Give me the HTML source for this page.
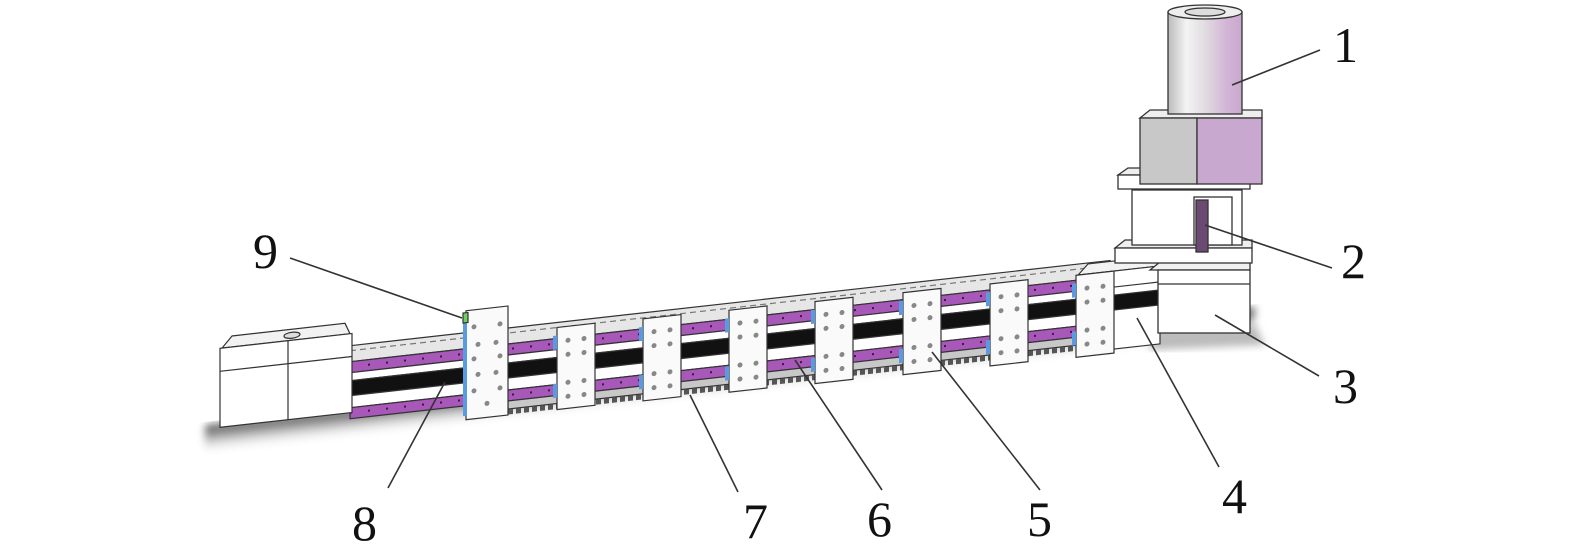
<!DOCTYPE html>
<html><head><meta charset="utf-8"><style>
html,body{margin:0;padding:0;background:#fff;}
svg{display:block;}
text{font-family:"Liberation Serif",serif;font-size:50px;fill:#111;}
</style></head><body>
<svg width="1575" height="557" viewBox="0 0 1575 557" xmlns="http://www.w3.org/2000/svg">
<defs>
<linearGradient id="sh" x1="0" y1="0" x2="0" y2="1">
<stop offset="0" stop-color="#555"/><stop offset="0.35" stop-color="#999"/><stop offset="1" stop-color="#fff" stop-opacity="0"/>
</linearGradient>
<linearGradient id="cyl" x1="0" y1="0" x2="1" y2="0">
<stop offset="0" stop-color="#bbb"/><stop offset="0.25" stop-color="#f4f4f4"/><stop offset="0.5" stop-color="#e0dce0"/><stop offset="0.8" stop-color="#d2b4d6"/><stop offset="1" stop-color="#c8a8cc"/>
</linearGradient>
<filter id="bl"><feGaussianBlur stdDeviation="4"/></filter>
<g id="p" stroke="#333" stroke-width="1.2">
<rect x="0" y="0" width="38" height="82" fill="#fafafa"/>
<rect x="-4" y="8" width="4" height="14" fill="#5a9ae0" stroke="none"/>
<rect x="-4" y="56" width="4" height="14" fill="#5a9ae0" stroke="none"/>
<g fill="#888" stroke="none">
<circle cx="11" cy="14" r="2.5"/><circle cx="27" cy="14" r="2.5"/>
<circle cx="11" cy="28" r="2.5"/><circle cx="27" cy="28" r="2.5"/>
<circle cx="11" cy="56" r="2.5"/><circle cx="27" cy="56" r="2.5"/>
<circle cx="11" cy="70" r="2.5"/><circle cx="27" cy="70" r="2.5"/>
</g>
</g>
</defs>

<g transform="skewY(-6.4)" filter="url(#bl)">
<rect x="205" y="448" width="1050" height="30" fill="url(#sh)"/>
</g>
<polygon points="1150,330 1255,325 1265,345 1150,350" fill="#bbb" filter="url(#bl)"/>

<g transform="skewY(-6.4)" stroke="#333" stroke-width="1.2">
<rect x="350" y="385" width="760" height="16" fill="#e6e6e6"/>
<line x1="350" y1="390" x2="1110" y2="390" stroke="#777" stroke-dasharray="6 4"/>
<rect x="350" y="401" width="760" height="11" fill="#a858b8"/>
<line x1="350" y1="406" x2="1110" y2="406" stroke="#3a1a40" stroke-width="2" stroke-dasharray="2 16"/>
<rect x="350" y="412" width="760" height="8" fill="#fff"/>
<rect x="350" y="420" width="815" height="15" fill="#111"/>
<rect x="350" y="435" width="760" height="12" fill="#fff"/>
<rect x="350" y="447" width="760" height="11" fill="#a858b8"/>
<line x1="350" y1="452" x2="1110" y2="452" stroke="#3a1a40" stroke-width="2" stroke-dasharray="2 16"/>
<rect x="508" y="458" width="602" height="8" fill="#c8c8c8"/>
<line x1="508" y1="469" x2="1110" y2="469" stroke="#555" stroke-width="5" stroke-dasharray="5 3"/>
<polygon points="222,373 232,362 345,362 350,373" fill="#f2f2f2"/>
<rect x="220" y="373" width="132" height="79" fill="#fff"/>
<line x1="288" y1="373" x2="288" y2="452"/>
<line x1="220" y1="396" x2="352" y2="396"/>
<ellipse cx="292" cy="368" rx="8" ry="3" fill="#ddd"/>
<polygon points="1078,396 1088,386 1150,386 1160,396" fill="#f2f2f2"/>
<rect x="1078" y="396" width="82" height="78" fill="#fff"/>
<line x1="1078" y1="412" x2="1160" y2="412"/>
<rect x="1110" y="420" width="55" height="15" fill="#111"/>
<rect x="466" y="363" width="42" height="109" fill="#fafafa"/>
<rect x="463" y="368" width="4" height="100" fill="#5a9ae0" stroke="none"/>
<rect x="463" y="365" width="5" height="10" fill="#6fd060"/>
<g fill="#888" stroke="none">
<circle cx="474" cy="380" r="2.5"/><circle cx="500" cy="380" r="2.5"/>
<circle cx="478" cy="398" r="2.5"/><circle cx="496" cy="398" r="2.5"/>
<circle cx="474" cy="412" r="2.5"/><circle cx="500" cy="412" r="2.5"/>
<circle cx="478" cy="428" r="2.5"/><circle cx="496" cy="428" r="2.5"/>
<circle cx="474" cy="444" r="2.5"/><circle cx="500" cy="444" r="2.5"/>
<circle cx="487" cy="458" r="2.5"/>
</g>
<use href="#p" transform="translate(557,390)"/>
<use href="#p" transform="translate(643,391)"/>
<use href="#p" transform="translate(729,392)"/>
<use href="#p" transform="translate(815,393)"/>
<use href="#p" transform="translate(903,394)"/>
<use href="#p" transform="translate(990,395)"/>
<use href="#p" transform="translate(1076,396)"/>
</g>

<g stroke="#333" stroke-width="1.3">
<polygon points="1150,270 1160,262 1250,262 1250,270" fill="#f0f0f0"/>
<rect x="1158" y="270" width="92" height="63" fill="#fff"/>
<line x1="1158" y1="284" x2="1250" y2="284"/>
<polygon points="1115,248 1125,240 1252,240 1252,248" fill="#eee"/>
<rect x="1115" y="248" width="137" height="15" fill="#fff"/>
<rect x="1132" y="190" width="110" height="55" fill="#fff"/>
<rect x="1194" y="197" width="38" height="48" fill="#fff"/>
<rect x="1196" y="200" width="12" height="52" fill="#6a4a72"/>
<polygon points="1118,175 1128,168 1250,168 1250,175" fill="#eee"/>
<rect x="1118" y="175" width="132" height="14" fill="#fff"/>
<polygon points="1140,118 1150,110 1262,110 1262,118" fill="#eee"/>
<rect x="1140" y="118" width="57" height="66" fill="#c8c8c8"/>
<rect x="1197" y="118" width="65" height="66" fill="#c9a8cf"/>
<rect x="1168" y="12" width="74" height="102" fill="url(#cyl)"/>
<ellipse cx="1205" cy="12" rx="37" ry="7" fill="#eee"/>
<ellipse cx="1205" cy="12" rx="20" ry="4" fill="#ddd"/>
</g>

<g stroke="#333" stroke-width="1.6">
<line x1="1320" y1="50" x2="1232" y2="85"/>
<line x1="1332" y1="268" x2="1205" y2="225"/>
<line x1="1319" y1="376" x2="1215" y2="315"/>
<line x1="1219" y1="467" x2="1137" y2="318"/>
<line x1="1040" y1="490" x2="932" y2="352"/>
<line x1="882" y1="490" x2="795" y2="360"/>
<line x1="738" y1="492" x2="690" y2="395"/>
<line x1="388" y1="488" x2="445" y2="382"/>
<line x1="290" y1="258" x2="462" y2="318"/>
</g>
<text x="1333" y="62">1</text>
<text x="1341" y="278">2</text>
<text x="1333" y="403">3</text>
<text x="1222" y="513">4</text>
<text x="1027" y="536">5</text>
<text x="867" y="536">6</text>
<text x="743" y="538">7</text>
<text x="352" y="540">8</text>
<text x="253" y="268">9</text>
</svg>
</body></html>
